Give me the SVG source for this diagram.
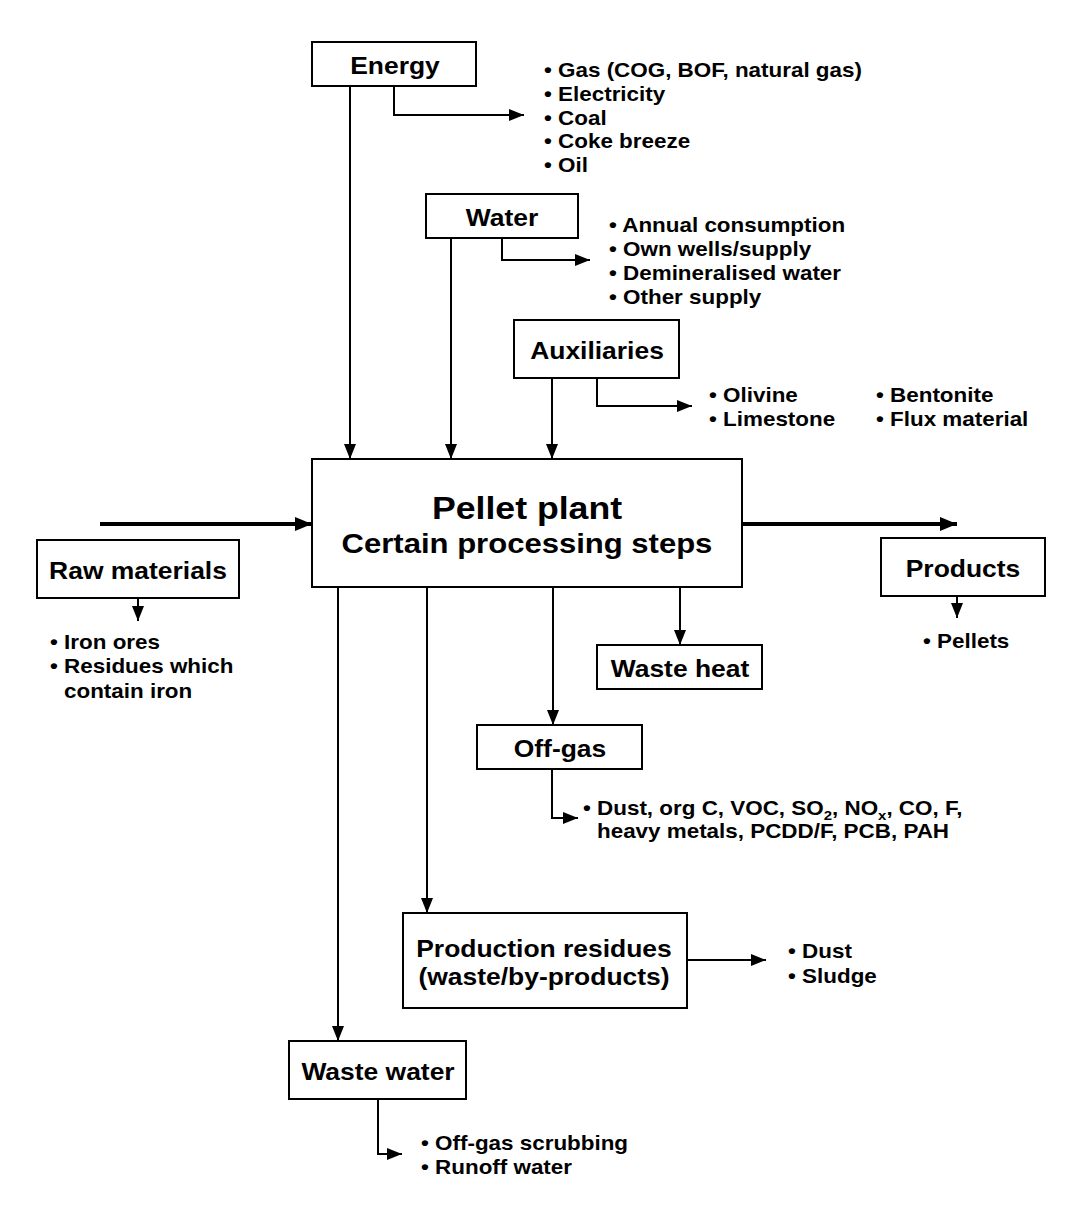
<svg xmlns="http://www.w3.org/2000/svg" width="1090" height="1206" viewBox="0 0 1090 1206">
<style>
.box{fill:#fff;stroke:#000;stroke-width:2}
.lbl{font-family:"Liberation Sans",Arial,Helvetica,sans-serif;font-weight:bold;font-size:23px;text-anchor:middle;fill:#000}
.big{font-size:31px}
.mid{font-size:27px}
.lst{font-family:"Liberation Sans",Arial,Helvetica,sans-serif;font-weight:bold;font-size:19.5px;fill:#000}
.sub{font-size:13px}
.ln{fill:none;stroke:#000;stroke-width:2;marker-end:url(#ah)}
.thick{fill:none;stroke:#000;stroke-width:4;marker-end:url(#ahb)}
</style>
<defs>
<marker id="ah" markerUnits="userSpaceOnUse" markerWidth="15" markerHeight="12" refX="15" refY="6" orient="auto"><path d="M0,0 L15,6 L0,12 z" fill="#000"/></marker>
<marker id="ahb" markerUnits="userSpaceOnUse" markerWidth="17" markerHeight="14" refX="17" refY="7" orient="auto"><path d="M0,0 L17,7 L0,14 z" fill="#000"/></marker>
</defs>
<rect width="1090" height="1206" fill="#fff"/>

<g id="connectors">
<path class="ln" d="M350,86 V459"/>
<path class="ln" d="M394,86 V115 H524"/>
<path class="ln" d="M451,238 V459"/>
<path class="ln" d="M502,238 V260 H590"/>
<path class="ln" d="M552,378 V459"/>
<path class="ln" d="M597,378 V406 H692"/>
<path class="thick" d="M100,524 H312"/>
<path class="thick" d="M742,524 H957"/>
<path class="ln" d="M138,598 V621"/>
<path class="ln" d="M957,596 V618"/>
<path class="ln" d="M338,587 V1041"/>
<path class="ln" d="M427,587 V913"/>
<path class="ln" d="M553,587 V725"/>
<path class="ln" d="M680,587 V645"/>
<path class="ln" d="M552,769 V818 H578"/>
<path class="ln" d="M687,960 H766"/>
<path class="ln" d="M378,1099 V1154 H402"/>
</g>

<g id="energy">
<rect class="box" x="312" y="42" width="164" height="44"/>
<text class="lbl" transform="translate(395 74) scale(1.15 1)">Energy</text>
<text class="lst" transform="translate(544 77) scale(1.15 1)">• Gas (COG, BOF, natural gas)</text>
<text class="lst" transform="translate(544 101) scale(1.15 1)">• Electricity</text>
<text class="lst" transform="translate(544 124.5) scale(1.15 1)">• Coal</text>
<text class="lst" transform="translate(544 148) scale(1.15 1)">• Coke breeze</text>
<text class="lst" transform="translate(544 172) scale(1.15 1)">• Oil</text>
</g>

<g id="water">
<rect class="box" x="426" y="194" width="152" height="44"/>
<text class="lbl" transform="translate(502 226) scale(1.15 1)">Water</text>
<text class="lst" transform="translate(609 232) scale(1.15 1)">• Annual consumption</text>
<text class="lst" transform="translate(609 256) scale(1.15 1)">• Own wells/supply</text>
<text class="lst" transform="translate(609 280) scale(1.15 1)">• Demineralised water</text>
<text class="lst" transform="translate(609 304) scale(1.15 1)">• Other supply</text>
</g>

<g id="auxiliaries">
<rect class="box" x="514" y="320" width="165" height="58"/>
<text class="lbl" transform="translate(597 359) scale(1.15 1)">Auxiliaries</text>
<text class="lst" transform="translate(709 402) scale(1.15 1)">• Olivine</text>
<text class="lst" transform="translate(709 426) scale(1.15 1)">• Limestone</text>
<text class="lst" transform="translate(876 402) scale(1.15 1)">• Bentonite</text>
<text class="lst" transform="translate(876 426) scale(1.15 1)">• Flux material</text>
</g>

<g id="pellet-plant">
<rect class="box" x="312" y="459" width="430" height="128"/>
<text class="lbl big" transform="translate(527 519) scale(1.15 1)">Pellet plant</text>
<text class="lbl mid" transform="translate(527 553) scale(1.15 1)">Certain processing steps</text>
</g>

<g id="raw-materials">
<rect class="box" x="37" y="540" width="202" height="58"/>
<text class="lbl" transform="translate(138 579) scale(1.15 1)">Raw materials</text>
<text class="lst" transform="translate(50 649) scale(1.15 1)">• Iron ores</text>
<text class="lst" transform="translate(50 673) scale(1.15 1)">• Residues which</text>
<text class="lst" transform="translate(64 698) scale(1.15 1)">contain iron</text>
</g>

<g id="products">
<rect class="box" x="881" y="538" width="164" height="58"/>
<text class="lbl" transform="translate(963 577) scale(1.15 1)">Products</text>
<text class="lst" transform="translate(923 648) scale(1.15 1)">• Pellets</text>
</g>

<g id="waste-heat">
<rect class="box" x="597" y="645" width="165" height="44"/>
<text class="lbl" transform="translate(680 677) scale(1.15 1)">Waste heat</text>
</g>

<g id="off-gas">
<rect class="box" x="477" y="725" width="165" height="44"/>
<text class="lbl" transform="translate(560 757) scale(1.15 1)">Off-gas</text>
<text class="lst" transform="translate(583 815) scale(1.15 1)">• Dust, org C, VOC, SO<tspan class="sub" dy="5">2</tspan><tspan dy="-5">, NO</tspan><tspan class="sub" dy="5">x</tspan><tspan dy="-5">, CO, F,</tspan></text>
<text class="lst" transform="translate(597 838) scale(1.15 1)">heavy metals, PCDD/F, PCB, PAH</text>
</g>

<g id="production-residues">
<rect class="box" x="403" y="913" width="284" height="95"/>
<text class="lbl" transform="translate(544 957) scale(1.15 1)">Production residues</text>
<text class="lbl" transform="translate(544 985) scale(1.15 1)">(waste/by-products)</text>
<text class="lst" transform="translate(788 958) scale(1.15 1)">• Dust</text>
<text class="lst" transform="translate(788 983) scale(1.15 1)">• Sludge</text>
</g>

<g id="waste-water">
<rect class="box" x="289" y="1041" width="177" height="58"/>
<text class="lbl" transform="translate(378 1080) scale(1.15 1)">Waste water</text>
<text class="lst" transform="translate(421 1150) scale(1.15 1)">• Off-gas scrubbing</text>
<text class="lst" transform="translate(421 1174) scale(1.15 1)">• Runoff water</text>
</g>
</svg>
